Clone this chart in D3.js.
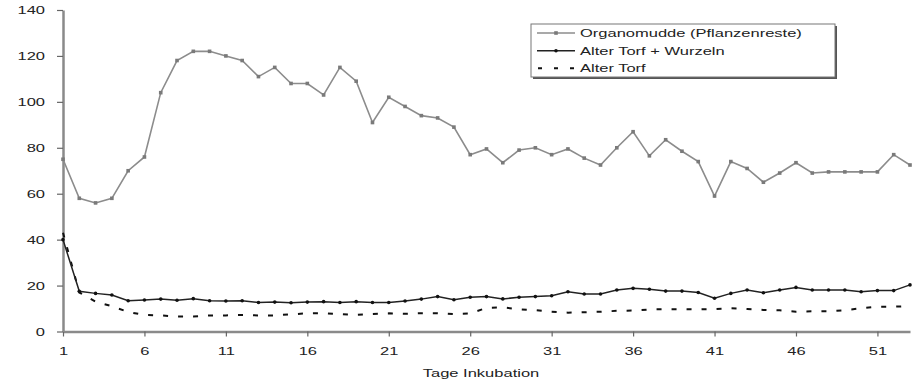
<!DOCTYPE html>
<html>
<head>
<meta charset="utf-8">
<script src="https://cdn.jsdelivr.net/npm/d3@7"></script>
<style>
  html, body { margin: 0; padding: 0; background: #fff; }
  svg { display: block; }
  text { font-family: "Liberation Sans", Arial, sans-serif; fill: #222; }
</style>
</head>
<body>
<svg id="chart" width="919" height="379"></svg>
<script>
// Incubation days 1..53
const days = d3.range(1, 54);

// Organomudde (Pflanzenreste)
const organomudde = [
  75, 58, 56, 58, 70, 76, 104, 118, 122, 122,
  120, 118, 111, 115, 108, 108, 103, 115, 109, 91,
  102, 98, 94, 93, 89, 77, 79.5, 73.5, 79, 80,
  77, 79.5, 75.5, 72.5, 80, 87, 76.5, 83.5, 78.5, 74,
  59, 74, 71, 65, 69, 73.5, 69, 69.5, 69.5, 69.5,
  69.5, 77, 72.5
];

// Alter Torf + Wurzeln
const torfWurzeln = [
  40, 17.5, 16.6, 15.9, 13.4, 13.7, 14.1, 13.6, 14.3, 13.4,
  13.3, 13.4, 12.6, 12.8, 12.5, 12.8, 13, 12.6, 13, 12.6,
  12.6, 13.3, 14.1, 15.2, 13.8, 14.9, 15.2, 14.2, 14.9, 15.2,
  15.6, 17.3, 16.3, 16.3, 18.1, 18.8, 18.4, 17.6, 17.6, 17,
  14.5, 16.6, 18.1, 16.9, 18.1, 19.2, 18.1, 18.1, 18.1, 17.3,
  17.8, 17.8, 20.3
];

// Alter Torf
const torf = [
  43, 17, 13, 11, 8.5, 7.2, 7, 6.5, 6.5, 7,
  7, 7.2, 7, 7, 7.5, 7.9, 7.9, 7.6, 7.2, 7.6,
  7.9, 7.7, 8, 8, 7.6, 7.9, 10.3, 10.5, 9.7, 9.3,
  8.6, 8.2, 8.4, 8.6, 9, 9.1, 9.6, 9.7, 9.7, 9.6,
  9.8, 10.1, 9.8, 9.4, 9.2, 8.6, 8.8, 8.8, 9.3, 10.1,
  10.8, 10.8, 11.1
];

const yTicks = [0, 20, 40, 60, 80, 100, 120, 140];
const xTicks = [1, 6, 11, 16, 21, 26, 31, 36, 41, 46, 51];
const xTitle = "Tage Inkubation";
const seriesNames = ["Organomudde (Pflanzenreste)", "Alter Torf + Wurzeln", "Alter Torf"];

const stretch = 1.5;   // wide lettering
const svg = d3.select("#chart");

const x = d3.scaleLinear().domain([1, 53]).range([63, 910]);
const y = d3.scaleLinear().domain([0, 140]).range([331.5, 10]);

// Axes
const axisColor = "#8a8a8a";
const gx = svg.append("g").attr("transform", `translate(0,${y(0)})`)
  .call(d3.axisBottom(x).tickValues(xTicks).tickSize(5).tickSizeOuter(0).tickFormat(d3.format("d")));
const gy = svg.append("g").attr("transform", `translate(${x(1)},0)`)
  .call(d3.axisLeft(y).tickValues(yTicks).tickSize(6).tickSizeOuter(0).tickFormat(d3.format("d")));

[gx, gy].forEach(g => {
  g.select(".domain").attr("stroke", axisColor).attr("stroke-width", 2.5);
  g.selectAll(".tick line").attr("stroke", "#666").attr("stroke-width", 1.2);
  g.selectAll("text").attr("font-size", 11).attr("fill", "#222")
    .attr("font-family", "Liberation Sans, Arial, sans-serif");
});
gx.selectAll(".tick text").attr("y", 0).attr("dy", 0)
  .attr("transform", `translate(0,23) scale(${stretch},1)`);
gy.selectAll(".tick text").attr("x", 0).attr("dy", "0.35em")
  .attr("transform", `translate(-18,0) scale(${stretch},1)`);

// Axis title
svg.append("text")
  .attr("transform", `translate(481,377) scale(${stretch},1)`)
  .attr("text-anchor", "middle").attr("font-size", 11)
  .text(xTitle);

// Series
const line = d3.line().x((d, i) => x(days[i])).y(d => y(d));

svg.append("path").datum(organomudde)
  .attr("fill", "none").attr("stroke", "#8c8c8c").attr("stroke-width", 1.6)
  .attr("d", line);
svg.append("g").selectAll("rect").data(organomudde).join("rect")
  .attr("x", (d, i) => x(days[i]) - 1.8).attr("y", d => y(d) - 1.8)
  .attr("width", 3.6).attr("height", 3.6).attr("fill", "#7a7a7a");

svg.append("path").datum(torf)
  .attr("fill", "none").attr("stroke", "#111").attr("stroke-width", 2)
  .attr("stroke-dasharray", "5,10")
  .attr("d", line);

svg.append("path").datum(torfWurzeln)
  .attr("fill", "none").attr("stroke", "#222").attr("stroke-width", 1.5)
  .attr("d", line);
svg.append("g").selectAll("circle").data(torfWurzeln).join("circle")
  .attr("cx", (d, i) => x(days[i])).attr("cy", d => y(d))
  .attr("r", 1.8).attr("fill", "#111");

// Legend
const legend = svg.append("g");
legend.append("rect").attr("x", 533).attr("y", 26).attr("width", 304).attr("height", 53)
  .attr("fill", "#555");
legend.append("rect").attr("x", 531).attr("y", 24).attr("width", 304).attr("height", 53)
  .attr("fill", "#fff").attr("stroke", "#777").attr("stroke-width", 1);

const rows = [33, 50.7, 68.3];
// Organomudde sample
legend.append("line").attr("x1", 537).attr("x2", 575).attr("y1", rows[0]).attr("y2", rows[0])
  .attr("stroke", "#8c8c8c").attr("stroke-width", 1.6);
legend.append("rect").attr("x", 554.2).attr("y", rows[0] - 1.8).attr("width", 3.6).attr("height", 3.6)
  .attr("fill", "#7a7a7a");
// Torf + Wurzeln sample
legend.append("line").attr("x1", 537).attr("x2", 575).attr("y1", rows[1]).attr("y2", rows[1])
  .attr("stroke", "#222").attr("stroke-width", 1.5);
legend.append("circle").attr("cx", 556).attr("cy", rows[1]).attr("r", 1.8).attr("fill", "#111");
// Torf sample
legend.append("line").attr("x1", 538).attr("x2", 575).attr("y1", rows[2]).attr("y2", rows[2])
  .attr("stroke", "#111").attr("stroke-width", 2).attr("stroke-dasharray", "4,12");

seriesNames.forEach((name, i) => {
  legend.append("text")
    .attr("transform", `translate(580,${rows[i]}) scale(${stretch},1)`)
    .attr("dy", "0.35em").attr("font-size", 11)
    .text(name);
});
</script>
</body>
</html>
